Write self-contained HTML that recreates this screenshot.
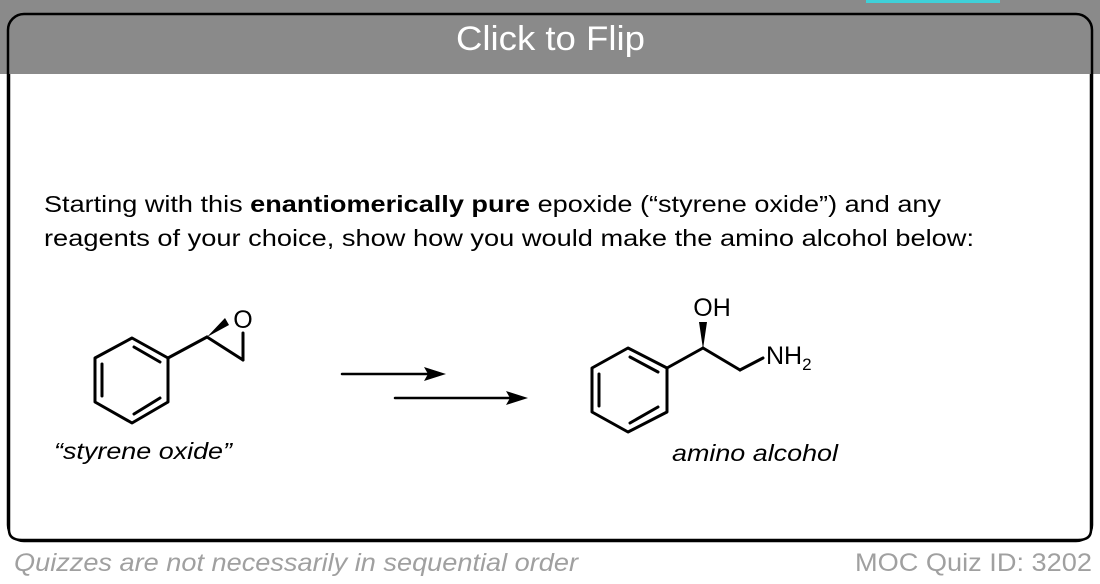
<!DOCTYPE html>
<html><head><meta charset="utf-8"><style>
html,body{margin:0;padding:0;background:#fff;width:1100px;height:584px;overflow:hidden}
</style></head><body>
<svg width="1100" height="584" viewBox="0 0 1100 584" xmlns="http://www.w3.org/2000/svg" style="display:block">
<rect x="0" y="0" width="1100" height="584" fill="#fff"/>
<rect x="0" y="0" width="1100" height="74" fill="#8a8a8a"/>
<rect x="866" y="0" width="134" height="3" fill="#3fd0d8"/>
<rect x="8" y="14" width="1084" height="527" rx="16" ry="16" fill="none" stroke="#000" stroke-width="2.5"/>
<rect x="9.5" y="74" width="1081" height="465" fill="#fff"/>
<path d="M9,74 V530 Q9,540 22,540 H1078 Q1091,540 1091,530 V74" fill="none" stroke="#000" stroke-width="2.5"/>
<text x="456" y="50" textLength="189" lengthAdjust="spacingAndGlyphs" font-family="Liberation Sans, sans-serif" font-size="34" fill="#fff">Click to Flip</text>

<g font-family="Liberation Sans, sans-serif" font-size="23" fill="#000">
<text x="44" y="212" textLength="897" lengthAdjust="spacingAndGlyphs">Starting with this <tspan font-weight="bold">enantiomerically pure</tspan> epoxide (“styrene oxide”) and any</text>
<text x="44" y="246" textLength="930" lengthAdjust="spacingAndGlyphs">reagents of your choice, show how you would make the amino alcohol below:</text>
</g>

<g stroke="#000" stroke-width="3" fill="none" stroke-linejoin="round" stroke-linecap="round">
<polygon points="132,338 168,358 168,402 132,423 95,402 95,358"/>
<line x1="102" y1="364" x2="102" y2="396"/>
<line x1="134" y1="347" x2="160" y2="362"/>
<line x1="134" y1="414" x2="160" y2="398"/>
<line x1="168" y1="358" x2="207" y2="337"/>
<line x1="207" y1="337" x2="243" y2="360"/>
<line x1="243" y1="360" x2="243" y2="333"/>

<polygon points="628,348 667,368 667,412 628,432 592,412 592,368"/>
<line x1="599" y1="374" x2="599" y2="406"/>
<line x1="630" y1="357" x2="658" y2="372"/>
<line x1="630" y1="423" x2="658" y2="407"/>
<line x1="667" y1="368" x2="703" y2="348"/>
<line x1="703" y1="348" x2="740" y2="370"/>
<line x1="740" y1="370" x2="763" y2="358"/>

<line x1="342" y1="374" x2="430" y2="374" stroke-width="2.5"/>
<line x1="395" y1="398" x2="512" y2="398" stroke-width="2.5"/>
</g>
<polygon points="207,337 225,318 229,325" fill="#000"/>
<polygon points="703,349 699,322 707,322" fill="#000"/>
<polygon points="446,374 424,367 428,374 424,381" fill="#000"/>
<polygon points="528,398 506,391 510,398 506,405" fill="#000"/>

<g font-family="Liberation Sans, sans-serif" font-size="25" fill="#000">
<text x="243" y="328" text-anchor="middle">O</text>
<text x="712" y="316" text-anchor="middle">OH</text>
<text x="766" y="364">NH<tspan font-size="17" dy="6">2</tspan></text>
</g>
<g font-family="Liberation Sans, sans-serif" font-size="23" font-style="italic" fill="#000">
<text x="54" y="459" textLength="178" lengthAdjust="spacingAndGlyphs">“styrene oxide”</text>
<text x="672" y="461" textLength="166" lengthAdjust="spacingAndGlyphs">amino alcohol</text>
</g>
<g font-family="Liberation Sans, sans-serif" font-size="25" fill="#a0a0a0">
<text x="14" y="571" font-style="italic" textLength="564" lengthAdjust="spacingAndGlyphs">Quizzes are not necessarily in sequential order</text>
<text x="855" y="571" textLength="237" lengthAdjust="spacingAndGlyphs">MOC Quiz ID: 3202</text>
</g>
</svg>
</body></html>
